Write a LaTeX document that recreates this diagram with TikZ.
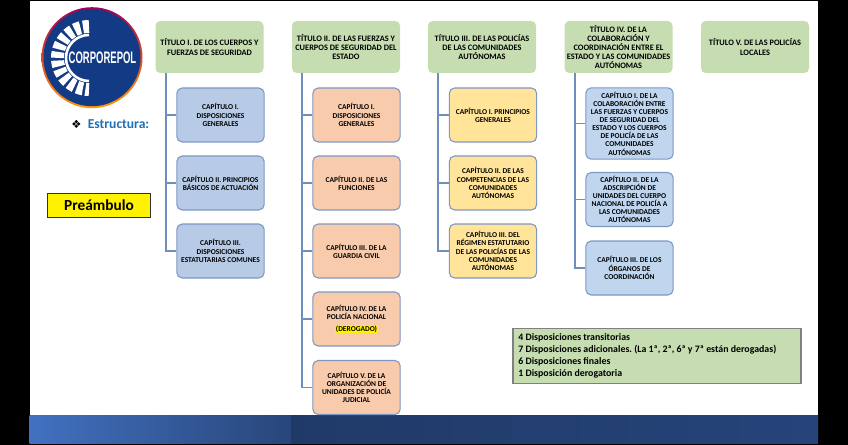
\documentclass[tikz,border=0pt]{standalone}
\usepackage{fontspec}
\setmainfont{Carlito}
\newfontfamily\symbfont{DejaVu Sans}
\newfontfamily\logofont{Liberation Sans}
\definecolor{titlegreen}{HTML}{C5DDB0}
\definecolor{capblue}{HTML}{B8CBE6}
\definecolor{caporange}{HTML}{F7CBAC}
\definecolor{capyellow}{HTML}{FFE49A}
\definecolor{capsky}{HTML}{BFD6EE}
\definecolor{capline}{HTML}{7F97C4}
\definecolor{spineblue}{HTML}{6F8DBD}
\definecolor{logonavy}{HTML}{133A85}
\definecolor{headblue}{HTML}{1F6FB2}
\definecolor{barleft}{HTML}{4271C0}
\definecolor{barmid}{HTML}{28467A}
\definecolor{bardark}{HTML}{203A68}
\definecolor{barright}{HTML}{26447A}
\tikzset{
  titulo/.style={fill=titlegreen,rounded corners=3.5pt,minimum width=81pt,minimum height=39pt,
    inner sep=0pt,align=center,text=black,font=\bfseries\fontsize{6.25}{6.9}\selectfont},
  capitulo/.style={draw=capline,line width=0.8pt,rounded corners=4pt,minimum width=65.5pt,
    inner sep=0pt,align=center,text=black,font=\bfseries\fontsize{5.6}{6.1}\selectfont},
  spine/.style={draw=spineblue,line width=0.8pt}
}
\begin{document}
\begin{tikzpicture}[x=0.75pt,y=-0.75pt]
\useasboundingbox (0,0) rectangle (848,445);
\fill[black] (0,0) rectangle (848,445);
\fill[white] (29.5,1) rectangle (818,415);
\shade[left color=barleft,right color=barmid] (29.5,415) rectangle (291,443);
\shade[left color=bardark,right color=barright] (291,415) rectangle (818,443);

% logo
\coordinate (logoc) at (92,57.7);
\shade[top color=violet!70!red,bottom color=orange!80!yellow] (logoc) circle (50.5);
\fill[logonavy] (logoc) circle (48.5);
\draw[white,line width=1.9pt] (89,35) arc [radius=23, start angle=-90, delta angle=-180];
\draw[white,line width=9.7pt,dash pattern=on 4.5pt off 2pt] (89,26.5) arc [radius=31.5, start angle=-90, delta angle=-180];
\node (logotext) at (102.5,57.5) [white,xscale=0.57,font=\logofont\bfseries\fontsize{12.5}{13}\selectfont] {CORPOREPOL};

% left column
\node (bullet) at (76.5,124) [font=\symbfont\fontsize{8.5}{9}\selectfont] {❖};
\node (estructura) at (118.5,124) [text=headblue,font=\bfseries\fontsize{10.2}{11}\selectfont] {Estructura:};
\node (preambulo) at (99,205.5) [draw=black!80,line width=0.9pt,fill=yellow,minimum width=77pt,minimum height=18.5pt,inner sep=0pt,font=\bfseries\fontsize{11.5}{12}\selectfont] {Preámbulo};

% titles
\node[titulo] (tI) at (209.5,47) {TÍTULO I. DE LOS CUERPOS Y\\FUERZAS DE SEGURIDAD};
\node[titulo] (tII) at (346,47) {TÍTULO II. DE LAS FUERZAS Y\\CUERPOS DE SEGURIDAD DEL\\ESTADO};
\node[titulo] (tIII) at (482,47) {TÍTULO III. DE LAS POLICÍAS\\DE LAS COMUNIDADES\\AUTÓNOMAS};
\node[titulo] (tIV) at (618.5,47) {TÍTULO IV. DE LA\\COLABORACIÓN Y\\COORDINACIÓN ENTRE EL\\ESTADO Y LAS COMUNIDADES\\AUTÓNOMAS};
\node[titulo] (tV) at (755,47) {TÍTULO V. DE LAS POLICÍAS\\LOCALES};

% chapters of title I
\node[capitulo,fill=capblue,minimum height=40.5pt] (cIa) at (220.5,115) {CAPÍTULO I.\\DISPOSICIONES\\GENERALES};
\node[capitulo,fill=capblue,minimum height=40.5pt] (cIb) at (220.5,183) {CAPÍTULO II. PRINCIPIOS\\BÁSICOS DE ACTUACIÓN};
\node[capitulo,fill=capblue,minimum height=40.5pt] (cIc) at (220.5,251) {CAPÍTULO III.\\DISPOSICIONES\\ESTATUTARIAS COMUNES};

% chapters of title II
\node[capitulo,fill=caporange,minimum height=40.5pt] (cIIa) at (356.5,115) {CAPÍTULO I.\\DISPOSICIONES\\GENERALES};
\node[capitulo,fill=caporange,minimum height=40.5pt] (cIIb) at (356.5,183) {CAPÍTULO II. DE LAS\\FUNCIONES};
\node[capitulo,fill=caporange,minimum height=40.5pt] (cIIc) at (356.5,251) {CAPÍTULO III. DE LA\\GUARDIA CIVIL};
\node[capitulo,fill=caporange,minimum height=40.5pt] (cIId) at (356.5,319) {CAPÍTULO IV. DE LA\\POLICÍA NACIONAL\\[3pt]{\fboxsep=0.4pt\colorbox{yellow}{(DEROGADO)}}};
\node[capitulo,fill=caporange,minimum height=40.5pt] (cIIe) at (356.5,387.5) {CAPÍTULO V. DE LA\\ORGANIZACIÓN DE\\UNIDADES DE POLICÍA\\JUDICIAL};

% chapters of title III
\node[capitulo,fill=capyellow,minimum height=40.5pt] (cIIIa) at (493,115) {CAPÍTULO I. PRINCIPIOS\\GENERALES};
\node[capitulo,fill=capyellow,minimum height=40.5pt] (cIIIb) at (493,183) {CAPÍTULO II. DE LAS\\COMPETENCIAS DE LAS\\COMUNIDADES\\AUTÓNOMAS};
\node[capitulo,fill=capyellow,minimum height=40.5pt] (cIIIc) at (493,251) {CAPÍTULO III. DEL\\RÉGIMEN ESTATUTARIO\\DE LAS POLICÍAS DE LAS\\COMUNIDADES\\AUTÓNOMAS};

% chapters of title IV
\node[capitulo,fill=capsky,minimum height=53.5pt] (cIVa) at (629.5,123.5) {CAPÍTULO I. DE LA\\COLABORACIÓN ENTRE\\LAS FUERZAS Y CUERPOS\\DE SEGURIDAD DEL\\ESTADO Y LOS CUERPOS\\DE POLICÍA DE LAS\\COMUNIDADES\\AUTÓNOMAS};
\node[capitulo,fill=capsky,minimum height=40.5pt] (cIVb) at (629.5,199.5) {CAPÍTULO II. DE LA\\ADSCRIPCIÓN DE\\UNIDADES DEL CUERPO\\NACIONAL DE POLICÍA A\\LAS COMUNIDADES\\AUTÓNOMAS};
\node[capitulo,fill=capsky,minimum height=40.5pt] (cIVc) at (629.5,268) {CAPÍTULO III. DE LOS\\ÓRGANOS DE\\COORDINACIÓN};

% spines
\coordinate (sI) at (166,73);
\coordinate (sII) at (302,73);
\coordinate (sIII) at (438,73);
\coordinate (sIV) at (575,73);
\draw[spine] (sI) |- (cIa.west);
\draw[spine] (sI) |- (cIb.west);
\draw[spine] (sI) |- (cIc.west);
\draw[spine] (sII) |- (cIIa.west);
\draw[spine] (sII) |- (cIIb.west);
\draw[spine] (sII) |- (cIIc.west);
\draw[spine] (sII) |- (cIId.west);
\draw[spine] (sII) |- (cIIe.west);
\draw[spine] (sIII) |- (cIIIa.west);
\draw[spine] (sIII) |- (cIIIb.west);
\draw[spine] (sIII) |- (cIIIc.west);
\draw[spine] (sIV) |- (cIVa.west);
\draw[spine] (sIV) |- (cIVb.west);
\draw[spine] (sIV) |- (cIVc.west);

% dispositions
\node (disp) at (657,356) [draw=black!50,line width=0.8pt,fill=titlegreen,minimum height=40.5pt,inner sep=4pt,text width=208pt,align=left,text=black,font=\bfseries\fontsize{7.4}{9}\selectfont] {\frenchspacing\spaceskip=1.7pt\relax 4 Disposiciones transitorias\\7 Disposiciones adicionales. (La 1ª, 2ª, 6ª y 7ª están derogadas)\\6 Disposiciones finales\\1 Disposición derogatoria};
\end{tikzpicture}
\end{document}
